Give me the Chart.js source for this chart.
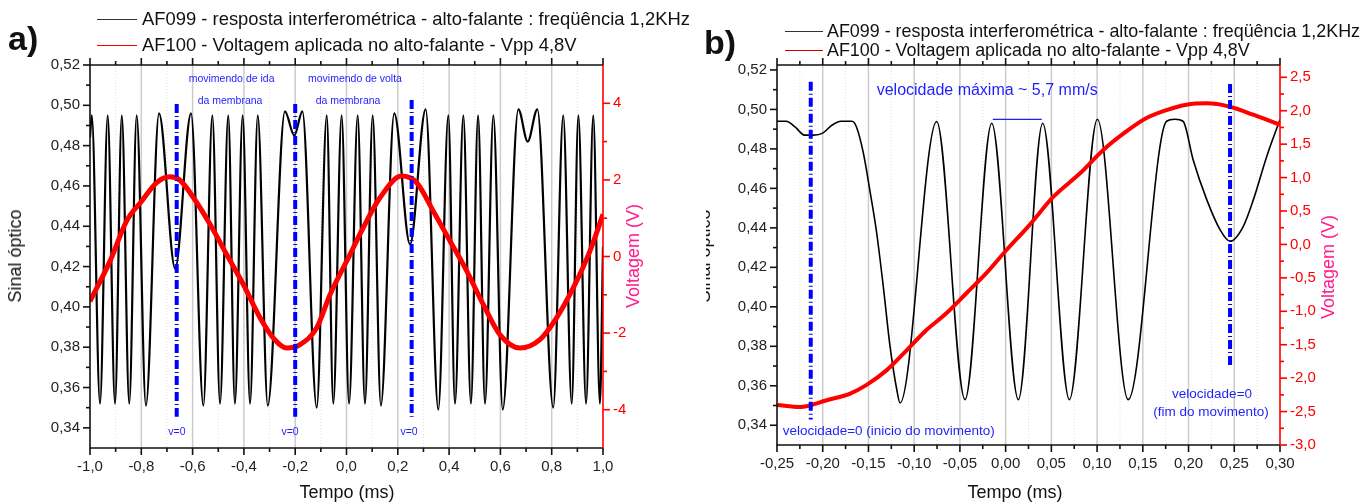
<!DOCTYPE html>
<html lang="pt">
<head>
<meta charset="utf-8">
<title>AF099 / AF100</title>
<script src="https://cdn.jsdelivr.net/npm/chart.js@4.4.1/dist/chart.umd.min.js"></script>
<style>
  html,body{margin:0;padding:0;background:#fff;}
  body{width:1369px;height:504px;position:relative;overflow:hidden;font-family:"Liberation Sans",Arial,sans-serif;color:#111;}
  canvas{position:absolute;top:0;}
  #ca{left:0;}
  #cb{left:706px;}
  .t{position:absolute;white-space:nowrap;line-height:22px;}
  .painel{font-weight:bold;font-size:34px;line-height:36px;}
  .leg{font-size:18.4px;}
  .legb{font-size:17.9px;}
  .amostra{position:absolute;height:0;border-top:1.5px solid #333;}
  .rot{transform:translate(-50%,-50%) rotate(-90deg);}
  .cen{transform:translate(-50%,-50%);}
  .titulo{font-size:18px;}
  #corte{position:absolute;left:706px;top:0;width:30px;height:504px;overflow:hidden;}
</style>
</head>
<body>
<canvas id="ca" width="690" height="504"></canvas>
<canvas id="cb" width="663" height="504"></canvas>

<div class="t painel" style="left:8px;top:20px">a)</div>
<div class="amostra" style="left:97px;top:19px;width:40px"></div>
<div class="t leg" style="left:142px;top:8px">AF099 - resposta interferométrica - alto-falante : freqüência 1,2KHz</div>
<div class="amostra" style="left:97px;top:45px;width:40px;border-color:#ff0000"></div>
<div class="t leg" style="left:142px;top:34px">AF100 - Voltagem aplicada no alto-falante - Vpp 4,8V</div>

<div class="t painel" style="left:704px;top:24px">b)</div>
<div class="amostra" style="left:785px;top:31px;width:38px"></div>
<div class="t legb" style="left:827px;top:20px">AF099 - resposta interferométrica - alto-falante : freqüência 1,2KHz</div>
<div class="amostra" style="left:785px;top:50px;width:38px;border-color:#dd0000"></div>
<div class="t legb" style="left:827px;top:39px">AF100 - Voltagem aplicada no alto-falante - Vpp 4,8V</div>

<div class="t titulo rot" style="left:15px;top:256px">Sinal óptico</div>
<div class="t titulo rot" style="left:633px;top:256px;color:#ff1a8c">Voltagem (V)</div>
<div class="t titulo cen" style="left:347px;top:492px">Tempo (ms)</div>
<div id="corte"><div class="t titulo rot" style="left:-2px;top:256px">Sinal óptico</div></div>
<div class="t titulo rot" style="left:1328px;top:267px;color:#ff1a8c">Voltagem (V)</div>
<div class="t titulo cen" style="left:1015px;top:492px">Tempo (ms)</div>

<script>
// ---- painel a) : extremos das franjas ----
const tempoA = [-1.000,-0.993,-0.961,-0.931,-0.9025,-0.876,-0.847,-0.818,-0.782,-0.731,-0.668,-0.606,-0.558,-0.523,-0.493,-0.461,-0.435,-0.405,-0.376,-0.346,-0.307,-0.240,-0.2035,-0.172,-0.116,-0.077,-0.0515,-0.019,0.010,0.0436,0.072,0.102,0.134,0.186,0.2476,0.3087,0.358,0.397,0.423,0.4555,0.485,0.513,0.540,0.5725,0.609,0.670,0.7064,0.744,0.806,0.845,0.878,0.904,0.934,0.962,0.988,1.000];
const sinalA = [0.484,0.495,0.352,0.495,0.352,0.495,0.352,0.495,0.351,0.496,0.419,0.496,0.351,0.495,0.352,0.495,0.352,0.495,0.352,0.495,0.351,0.497,0.485,0.497,0.350,0.495,0.352,0.495,0.352,0.495,0.352,0.495,0.351,0.496,0.431,0.498,0.349,0.495,0.352,0.495,0.352,0.495,0.352,0.495,0.349,0.498,0.482,0.498,0.350,0.495,0.352,0.495,0.352,0.495,0.352,0.430];
const tempoVA = [-1.0,-0.922,-0.857,-0.798,-0.740,-0.688,-0.649,-0.597,-0.532,-0.467,-0.402,-0.337,-0.285,-0.233,-0.181,-0.116,-0.064,0.0136,0.065,0.131,0.215,0.273,0.338,0.404,0.469,0.533,0.598,0.676,0.754,0.819,0.884,0.949,1.0];
const voltA = [-1.17,-0.12,0.93,1.45,1.93,2.08,1.99,1.54,0.84,0.05,-0.73,-1.60,-2.13,-2.39,-2.30,-1.86,-0.99,0.05,0.75,1.54,2.10,1.93,1.19,0.40,-0.38,-1.25,-2.04,-2.39,-2.17,-1.60,-0.82,0.14,1.10];
const vZeroA = [-0.662, -0.200, 0.254];      // linhas "v=0"
const vZeroATopo = [0.5006, 0.5006, 0.5026];
const vZeroABase = [0.3455, 0.3455, 0.3455];
const ticksXA = [-1.0,-0.8,-0.6,-0.4,-0.2,0.0,0.2,0.4,0.6,0.8,1.0];
const ticksYA = [0.34,0.36,0.38,0.40,0.42,0.44,0.46,0.48,0.50,0.52];
const ticksVA = [-4,-2,0,2,4];

// ---- painel b) ----
const tempoB = [-0.250,-0.240,-0.230,-0.220,-0.210,-0.200,-0.190,-0.180,-0.168,-0.163,-0.1556,-0.148,-0.141,-0.1338,-0.1264,-0.119,-0.1155,-0.0754,-0.0444,-0.0152,0.0139,0.0405,0.0697,0.1003,0.134,0.176,0.185,0.194,0.205,0.2199,0.2344,0.2454,0.2599,0.2709,0.2855,0.300];
const sinalB = [0.494,0.494,0.491,0.487,0.487,0.488,0.492,0.494,0.494,0.491,0.478,0.4577,0.4374,0.4104,0.380,0.358,0.3513,0.4939,0.353,0.493,0.353,0.493,0.353,0.495,0.353,0.494,0.495,0.494,0.4745,0.4543,0.4391,0.4332,0.4408,0.4543,0.4762,0.4949];
const tempoVB = [-0.25,-0.2248,-0.1957,-0.170,-0.152,-0.130,-0.108,-0.0866,-0.0648,-0.0429,-0.0211,0.0012,0.0248,0.052,0.081,0.1065,0.132,0.154,0.176,0.1977,0.2196,0.2451,0.2706,0.30];
const voltB = [-2.40,-2.43,-2.33,-2.23,-2.10,-1.88,-1.58,-1.28,-1.03,-0.73,-0.43,-0.08,0.27,0.71,1.06,1.41,1.69,1.89,2.01,2.09,2.11,2.06,1.94,1.79];
const vZeroB = [-0.2131, 0.2454];
const vZeroBTopo = [0.514, 0.5129];
const vZeroBBase = [0.3429, 0.3692];
const ticksXB = [-0.25,-0.20,-0.15,-0.10,-0.05,0.00,0.05,0.10,0.15,0.20,0.25,0.30];
const ticksYB = [0.34,0.36,0.38,0.40,0.42,0.44,0.46,0.48,0.50,0.52];
const ticksVB = [-3.0,-2.5,-2.0,-1.5,-1.0,-0.5,0.0,0.5,1.0,1.5,2.0,2.5];

Chart.defaults.font.family = '"Liberation Sans", Arial, sans-serif';

const pts = (xs, ys) => xs.map((x, i) => ({x, y: ys[i]}));
const meios = arr => arr.slice(1).map((v, i) => (v + arr[i]) / 2);
const fmt = (v, d) => (Math.abs(v) < 1e-9 ? 0 : v).toFixed(d).replace('.', ',');
const AZUL = '#1f1fff';

// grade vertical, moldura, marcas dos eixos e anotações
const moldura = {
  id: 'moldura',
  beforeDatasetsDraw(chart, args, o) {
    const {ctx, chartArea: a, scales: {x}} = chart;
    ctx.save();
    ctx.strokeStyle = '#cccccc'; ctx.lineWidth = 1.5;
    o.xs.forEach(v => {
      const px = x.getPixelForValue(v);
      if (px <= a.left + 1 || px >= a.right - 1) return;
      ctx.beginPath(); ctx.moveTo(px, a.top); ctx.lineTo(px, a.bottom); ctx.stroke();
    });
    ctx.strokeStyle = '#dddddd'; ctx.lineWidth = 1; ctx.setLineDash([1, 2]);
    meios(o.xs).forEach(v => {
      const px = x.getPixelForValue(v);
      ctx.beginPath(); ctx.moveTo(px, a.top); ctx.lineTo(px, a.bottom); ctx.stroke();
    });
    ctx.restore();
  },
  afterDatasetsDraw(chart, args, o) {
    const {ctx, chartArea: a, scales: {x, y, y2}} = chart;
    ctx.save();
    // linhas azuis tracejadas
    ctx.strokeStyle = '#0000ff'; ctx.lineWidth = 4; ctx.setLineDash([9, 3, 1, 3]);
    o.linhas.x.forEach((v, i) => {
      const px = x.getPixelForValue(v);
      ctx.beginPath(); ctx.moveTo(px, y.getPixelForValue(o.linhas.topo[i])); ctx.lineTo(px, y.getPixelForValue(o.linhas.base[i])); ctx.stroke();
    });
    ctx.setLineDash([]);
    (o.segmentos || []).forEach(s => {
      ctx.strokeStyle = AZUL; ctx.lineWidth = 1.2;
      ctx.beginPath(); ctx.moveTo(x.getPixelForValue(s[0]), y.getPixelForValue(s[2])); ctx.lineTo(x.getPixelForValue(s[1]), y.getPixelForValue(s[2])); ctx.stroke();
    });
    ctx.fillStyle = AZUL; ctx.textBaseline = 'middle';
    o.textos.forEach(t => {
      ctx.font = t[3] + 'px "Liberation Sans", Arial, sans-serif';
      ctx.textAlign = t[4] || 'center';
      ctx.fillText(t[0], x.getPixelForValue(t[1]), y.getPixelForValue(t[2]));
    });
    // moldura
    ctx.lineWidth = 1.6;
    ctx.strokeStyle = '#111';
    ctx.beginPath(); ctx.moveTo(a.left, a.top); ctx.lineTo(a.right, a.top); ctx.moveTo(a.left, a.top); ctx.lineTo(a.left, a.bottom); ctx.lineTo(a.right, a.bottom); ctx.stroke();
    // marcas em x (baixo e topo)
    const marcaX = (v, len) => {
      const px = x.getPixelForValue(v);
      ctx.beginPath(); ctx.moveTo(px, a.bottom); ctx.lineTo(px, a.bottom + len); ctx.moveTo(px, a.top); ctx.lineTo(px, a.top - len); ctx.stroke();
    };
    o.xs.forEach(v => marcaX(v, 7)); meios(o.xs).forEach(v => marcaX(v, 4));
    const marcaY = (v, len) => {
      const py = y.getPixelForValue(v);
      ctx.beginPath(); ctx.moveTo(a.left, py); ctx.lineTo(a.left - len, py); ctx.stroke();
    };
    o.ys.forEach(v => marcaY(v, 7)); meios(o.ys).forEach(v => marcaY(v, 4));
    ctx.strokeStyle = '#ff0000';
    ctx.beginPath(); ctx.moveTo(a.right, a.top); ctx.lineTo(a.right, a.bottom); ctx.stroke();
    const marcaV = (v, len) => {
      const py = y2.getPixelForValue(v);
      ctx.beginPath(); ctx.moveTo(a.right, py); ctx.lineTo(a.right + len, py); ctx.stroke();
    };
    o.vs.forEach(v => marcaV(v, 7)); meios(o.vs).forEach(v => marcaV(v, 4));
    ctx.restore();
  }
};

function grafico(id, c) {
  return new Chart(document.getElementById(id), {
    type: 'line',
    data: {
      datasets: [
        { data: pts(c.tv, c.v), yAxisID: 'y2', borderColor: '#ff0000', borderWidth: c.lv, pointRadius: 0, cubicInterpolationMode: 'monotone' },
        { data: pts(c.t, c.s), yAxisID: 'y', borderColor: '#000000', borderWidth: c.ls, pointRadius: 0, cubicInterpolationMode: 'monotone' }
      ]
    },
    options: {
      responsive: false, animation: false, events: [],
      layout: { padding: { top: 65, left: 0, right: 0, bottom: 0 } },
      plugins: { legend: { display: false }, tooltip: { enabled: false }, moldura: c.anot },
      scales: {
        x: {
          type: 'linear', position: 'bottom', min: c.xmin, max: c.xmax,
          grid: { display: false, drawTicks: false }, border: { display: false },
          afterBuildTicks: s => { s.ticks = c.xs.map(v => ({value: v})); },
          afterFit: s => { s.height = c.hx; },
          ticks: { autoSkip: false, maxRotation: 0, padding: 10, color: '#222', font: { size: 15 }, callback: v => fmt(v, c.dx) }
        },
        y: {
          position: 'left', min: c.ymin, max: c.ymax,
          grid: { display: false, drawTicks: false }, border: { display: false },
          afterBuildTicks: s => { s.ticks = c.ys.map(v => ({value: v})); },
          afterFit: s => { s.width = c.wy; },
          ticks: { padding: 10, color: '#222', font: { size: 15 }, callback: v => fmt(v, 2) }
        },
        y2: {
          position: 'right', min: c.vmin, max: c.vmax,
          grid: { display: false, drawTicks: false }, border: { display: false },
          afterBuildTicks: s => { s.ticks = c.vs.map(v => ({value: v})); },
          afterFit: s => { s.width = c.wv; },
          ticks: { padding: 10, color: '#ff0000', font: { size: 15 }, callback: v => fmt(v, c.dv) }
        }
      }
    },
    plugins: [moldura]
  });
}

grafico('ca', {
  t: tempoA, s: sinalA, tv: tempoVA, v: voltA, ls: 2.2, lv: 5,
  xmin: -1, xmax: 1, ymin: 0.33, ymax: 0.52, vmin: -5, vmax: 5,
  xs: ticksXA, ys: ticksYA, vs: ticksVA, dx: 1, dv: 0,
  hx: 56, wy: 90, wv: 87,
  anot: {
    xs: ticksXA, ys: ticksYA, vs: ticksVA,
    linhas: { x: vZeroA, topo: vZeroATopo, base: vZeroABase },
    textos: [
      ['movimendo de ida', -0.448, 0.5131, 10.5],
      ['da membrana', -0.454, 0.5021, 10.5],
      ['movimendo de volta', 0.033, 0.5131, 10.5],
      ['da membrana', 0.006, 0.5021, 10.5],
      ['v=0', -0.661, 0.3379, 10.5],
      ['v=0', -0.220, 0.3379, 10.5],
      ['v=0', 0.244, 0.3379, 10.5]
    ]
  }
});

grafico('cb', {
  t: tempoB, s: sinalB, tv: tempoVB, v: voltB, ls: 1.6, lv: 4,
  xmin: -0.25, xmax: 0.30, ymin: 0.33, ymax: 0.5225, vmin: -3.0, vmax: 2.684,
  xs: ticksXB, ys: ticksYB, vs: ticksVB, dx: 2, dv: 1,
  hx: 59, wy: 71, wv: 89,
  anot: {
    xs: ticksXB, ys: ticksYB, vs: ticksVB,
    linhas: { x: vZeroB, topo: vZeroBTopo, base: vZeroBBase },
    segmentos: [[-0.0141, 0.0395, 0.4950]],
    textos: [
      ['velocidade máxima ~ 5,7 mm/s', -0.141, 0.5095, 16, 'left'],
      ['velocidade=0 (inicio do movimento)', -0.2438, 0.3370, 13.5, 'left'],
      ['velocidade=0', 0.2257, 0.3557, 13.5],
      ['(fim do movimento)', 0.2246, 0.3467, 13.5]
    ]
  }
});
</script>
</body>
</html>
